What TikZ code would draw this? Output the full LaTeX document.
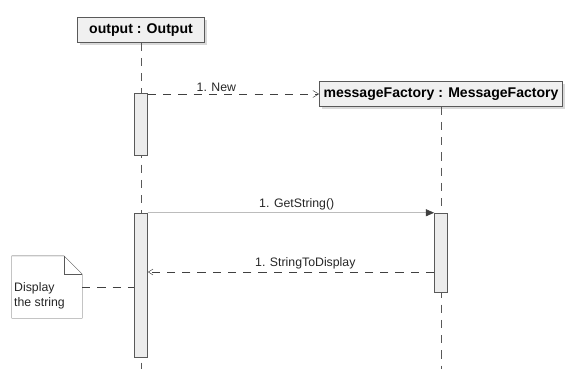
\documentclass[tikz,border=0pt]{standalone}
\usepackage{fontspec}
\setmainfont{Liberation Sans}
\usetikzlibrary{arrows.meta, shadows}

\begin{document}
\begin{tikzpicture}[x=0.03cm, y=-0.03cm,
  objbox/.style={draw=gray!70!black, fill=gray!12, minimum height=0.75cm,
    font=\fontsize{12}{14}\selectfont\bfseries,
    drop shadow={shadow xshift=2pt, shadow yshift=-2pt, opacity=0.3}},
  actbar/.style={draw=gray!70!black, fill=gray!15, minimum width=0.4cm, inner sep=0pt},
  lifeline/.style={gray!70!black, dash pattern=on 7pt off 6pt},
  msgline/.style={gray!50!black},
  msglbl/.style={font=\fontsize{10.5}{12}\selectfont, text=gray!30!black, inner sep=2pt},
  notetxt/.style={font=\fontsize{10.5}{13}\selectfont, text=gray!30!black, align=left, inner sep=0pt}]
  \useasboundingbox (0,0) rectangle (566,369);
  % objects
  \node[objbox, minimum width=3.8cm] (output) at (141,30) {output : Output};
  \node[objbox, minimum width=7.3cm] (factory) at (441,94) {messageFactory : MessageFactory};
  \coordinate (outputend) at (141,369);
  \coordinate (factoryend) at (441,369);
  % lifelines
  \draw[lifeline] (output.south) -- (outputend);
  \draw[lifeline] (factory.south) -- (factoryend);
  % activations
  \node[actbar, minimum height=1.86cm] (act1) at (141,124) {};
  \node[actbar, minimum height=4.32cm] (act2) at (141,285) {};
  \node[actbar, minimum height=2.37cm] (act3) at (441,252.5) {};
  % messages
  \draw[msgline, dash pattern=on 7pt off 6pt, -{Straight Barb[length=5pt, width=6pt]}]
    (act1.east |- factory.west) -- (factory.west)
    node[msglbl, above, pos=0.4] (lblnew) {1. New};
  \draw[msgline, -{Triangle[length=7pt, width=6pt]}]
    (act2.north east) -- (act3.north west)
    node[msglbl, above, pos=0.52] (lblget) {1. GetString()};
  \path (act3.west) ++(0,19.5) coordinate (retfrom);
  \draw[msgline, dash pattern=on 7pt off 6pt, -{Straight Barb[length=4pt, width=5pt]}]
    (retfrom) -- (retfrom -| act2.east)
    node[msglbl, above, pos=0.45] (lblret) {1. StringToDisplay};
  % note
  \node[minimum width=2.1cm, minimum height=1.86cm, inner sep=0pt] (note) at (47,287) {};
  \draw[gray!70!black, fill=white] (note.north west) -- ([xshift=-0.55cm]note.north east)
    -- ([yshift=-0.55cm]note.north east) -- (note.south east) -- (note.south west) -- cycle;
  \draw[gray!70!black] ([xshift=-0.55cm]note.north east) |- ([yshift=-0.55cm]note.north east);
  \node[notetxt, anchor=west] (notetext) at (14,296) {Display\\the string};
  \draw[msgline, dash pattern=on 7pt off 6pt] (note.east) -- (note.east -| act2.west);
\end{tikzpicture}
\end{document}
